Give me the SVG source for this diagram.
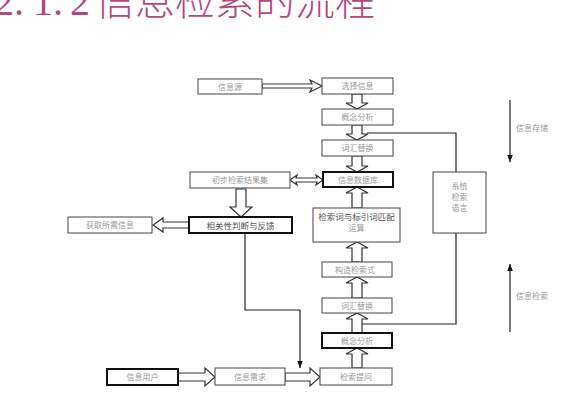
<svg xmlns="http://www.w3.org/2000/svg" width="567" height="400" viewBox="0 0 567 400">
<defs>
<style>
.box{fill:#fff;stroke:#444;stroke-width:1}
.thick{fill:#fff;stroke:#111;stroke-width:2}
.t{font-family:"Noto Sans CJK SC","Liberation Serif",serif;font-size:8px;fill:#999;text-anchor:middle}
.td{font-family:"Noto Sans CJK SC","Liberation Serif",serif;font-size:8.5px;fill:#555;text-anchor:middle}
.fat{fill:#fff;stroke:#333;stroke-width:1.2;stroke-linejoin:miter}
.ln{fill:none;stroke:#222;stroke-width:1.2}
</style>
<marker id="ah" viewBox="0 0 10 10" refX="10" refY="5" markerWidth="6" markerHeight="6" orient="auto"><path d="M0,1 L10,5 L0,9 Z" fill="#111"/></marker>
</defs>
<rect width="567" height="400" fill="#fff"/>
<g id="title">
<text y="15" fill="#b5477f" font-size="40"><tspan x="-6" font-family="'Liberation Serif',serif">2.</tspan><tspan x="33" font-family="'Liberation Serif',serif">1.</tspan><tspan x="70" font-family="'Liberation Serif',serif">2</tspan><tspan x="95" font-family="'Noto Sans CJK SC',sans-serif" font-weight="300">信息检索的流程</tspan></text>
</g>
<g id="connectors">
<path class="fat" d="M262,84 L312,84 L310,80 L322,86 L310,92 L312,88 L262,88 Z"/>
<path class="fat" d="M352,94 L352,103 L346,103 L357,109 L368,103 L362,103 L362,94 Z"/>
<path class="fat" d="M352,125 L352,134 L346,134 L357,140 L368,134 L362,134 L362,125 Z"/>
<path class="fat" d="M352,156 L352,166 L346,166 L357,172 L368,166 L362,166 L362,156 Z"/>
<path class="fat" d="M290,180 L297,175 L296,178 L317,178 L316,175 L323,180 L316,185 L317,182 L296,182 L297,185 Z"/>
<path class="fat" d="M236,189 L236,207 L230,207 L241,217 L252,207 L246,207 L246,189 Z"/>
<path class="fat" d="M189,222 L163,222 L163,218 L153,225 L163,232 L163,228 L189,228 Z"/>
<path class="ln" d="M245,233 L245,310 L300,310 L300,368" marker-end="url(#ah)"/>
<path class="fat" d="M178,373 L205,373 L205,368 L215,377 L205,386 L205,381 L178,381 Z"/>
<path class="fat" d="M285,373 L310,373 L310,368 L320,377 L310,386 L310,381 L285,381 Z"/>
<path class="fat" d="M352,368 L352,354 L346,354 L357,348 L368,354 L362,354 L362,368 Z"/>
<path class="fat" d="M352,333 L352,319 L346,319 L357,313 L368,319 L362,319 L362,333 Z"/>
<path class="fat" d="M352,298 L352,283 L346,283 L357,277 L368,283 L362,283 L362,298 Z"/>
<path class="fat" d="M352,262 L352,248 L346,248 L357,242 L368,248 L362,248 L362,262 Z"/>
<path class="fat" d="M352,208 L352,193 L346,193 L357,187 L368,193 L362,193 L362,208 Z"/>
<path class="ln" d="M367,133 L456,133 L456,172"/>
<path class="ln" d="M456,233 L456,324 L362,324"/>
<path class="ln" d="M510,100 L510,162" marker-end="url(#ah)"/>
<path class="ln" d="M510,332 L510,264" marker-end="url(#ah)"/>
</g>
<g id="n-xinxiyuan"><rect class="box" x="198" y="79" width="64" height="15"/><text class="t" x="230" y="89.5">信息源</text></g>
<g id="n-xuanze"><rect class="box" x="322" y="78" width="71" height="16"/><text class="t" x="357.5" y="89">选择信息</text></g>
<g id="n-gainian1"><rect class="box" x="322" y="109" width="71" height="16"/><text class="t" x="357.5" y="120">概念分析</text></g>
<g id="n-cihui1"><rect class="box" x="322" y="140" width="71" height="16"/><text class="t" x="357.5" y="151">词汇替换</text></g>
<g id="n-shujuku"><rect class="thick" x="323" y="172" width="70" height="15"/><text class="t" x="358" y="182.5">信息数据库</text></g>
<g id="n-chubu"><rect class="box" x="190" y="172" width="100" height="16"/><text class="t" x="240" y="183">初步检索结果集</text></g>
<g id="n-xiangguan"><rect class="thick" x="189" y="217" width="103" height="16"/><text class="td" x="240.5" y="228.5">相关性判断与反馈</text></g>
<g id="n-huoqu"><rect class="box" x="68" y="217" width="84" height="16"/><text class="t" x="110" y="228">获取所需信息</text></g>
<g id="n-pipei"><rect class="box" x="313" y="208" width="87" height="34"/><text class="td" x="356.5" y="220">检索词与标引词匹配</text><text class="t" x="356.5" y="231">运算</text></g>
<g id="n-gouzao"><rect class="box" x="322" y="262" width="70" height="15"/><text class="t" x="355" y="272.5">构造检索式</text></g>
<g id="n-cihui2"><rect class="box" x="322" y="298" width="70" height="15"/><text class="t" x="357" y="308.5">词汇替换</text></g>
<g id="n-gainian2"><rect class="thick" x="322" y="333" width="70" height="15"/><text class="t" x="357" y="343.5">概念分析</text></g>
<g id="n-tiwen"><rect class="box" x="320" y="368" width="72" height="17"/><text class="t" x="356" y="379.5">检索提问</text></g>
<g id="n-xuqiu"><rect class="box" x="215" y="368" width="70" height="17"/><text class="t" x="250" y="379.5">信息需求</text></g>
<g id="n-yonghu"><rect class="thick" x="107" y="369" width="71" height="16"/><text class="t" x="142.5" y="380">信息用户</text></g>
<g id="n-yuyan"><rect class="box" x="433" y="172" width="53" height="61"/><text class="t" x="459.5" y="189">系统</text><text class="t" x="459.5" y="200">检索</text><text class="t" x="459.5" y="211">语言</text></g>
<g id="labels"><text class="t" x="532" y="131">信息存储</text><text class="t" x="532" y="299">信息检索</text></g>
</svg>
